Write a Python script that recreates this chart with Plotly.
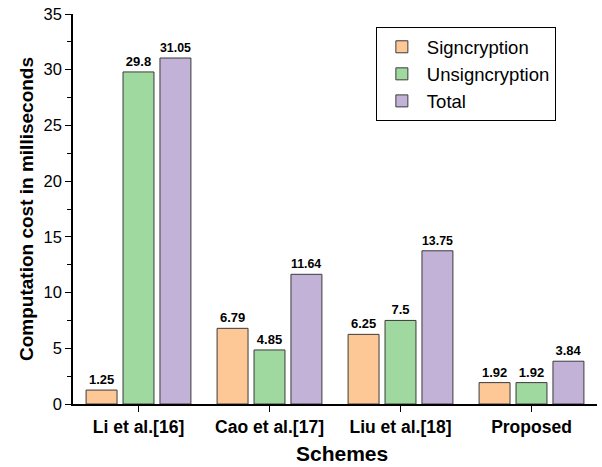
import plotly.graph_objects as go

schemes = ["Li et al.[16]", "Cao et al.[17]", "Liu et al.[18]", "Proposed"]
signcryption = [1.25, 6.79, 6.25, 1.92]
unsigncryption = [29.8, 4.85, 7.5, 1.92]
total = [31.05, 11.64, 13.75, 3.84]

series = [
    ("Signcryption", signcryption, "#FDC896"),
    ("Unsigncryption", unsigncryption, "#A0D9A0"),
    ("Total", total, "#C3B2D7"),
]

fig = go.Figure()
for name, vals, col in series:
    fig.add_trace(go.Bar(
        x=schemes, y=vals, name=name,
        marker=dict(color=col, line=dict(color="#3a3a3a", width=1)),
        text=[str(v) for v in vals], textposition="outside",
        textfont=dict(family="Liberation Sans", size=13, color="black", weight="bold"),
        cliponaxis=False,
    ))

fig.update_layout(
    width=602, height=467,
    margin=dict(l=73, r=5, t=14, b=63),
    paper_bgcolor="white", plot_bgcolor="white",
    barmode="group", bargap=0.154, bargroupgap=0.162,
    font=dict(family="Liberation Sans", color="black"),
    showlegend=True,
    legend=dict(
        x=0.578, y=0.966, xanchor="left", yanchor="top",
        bordercolor="black", borderwidth=1, bgcolor="white",
        font=dict(size=18.5), tracegroupgap=0, itemwidth=40,
    ),
    xaxis=dict(
        showline=True, linecolor="black", linewidth=1.5,
        ticks="outside", ticklen=6, tickcolor="black",
        minor=dict(ticks="outside", ticklen=4, tickcolor="black", dtick=1),
        tickfont=dict(size=17.5, weight="bold"),
        range=[-0.5, 3.5], automargin=False,
    ),
    yaxis=dict(
        range=[0, 35], dtick=5,
        showline=True, linecolor="black", linewidth=1.5,
        ticks="outside", ticklen=6, tickcolor="black",
        minor=dict(ticks="outside", ticklen=4, tickcolor="black", dtick=2.5),
        showgrid=False, zeroline=False,
        tickfont=dict(size=16.5), automargin=False,
    ),
    annotations=[
        dict(text="<b>Schemes</b>", xref="paper", yref="paper",
             x=0.513, y=-0.128, xanchor="center", yanchor="middle",
             showarrow=False, font=dict(size=21)),
        dict(text="<b>Computation cost in milliseconds</b>", xref="paper", yref="paper",
             x=-0.0897, y=0.5, xanchor="center", yanchor="middle", textangle=-90,
             showarrow=False, font=dict(size=19)),
    ],
)

# remove the browser's default 8px body margin so the figure fills the window
fig.write_html("out.html", config={"displayModeBar": False},
               post_script="document.body.style.margin='0';")
